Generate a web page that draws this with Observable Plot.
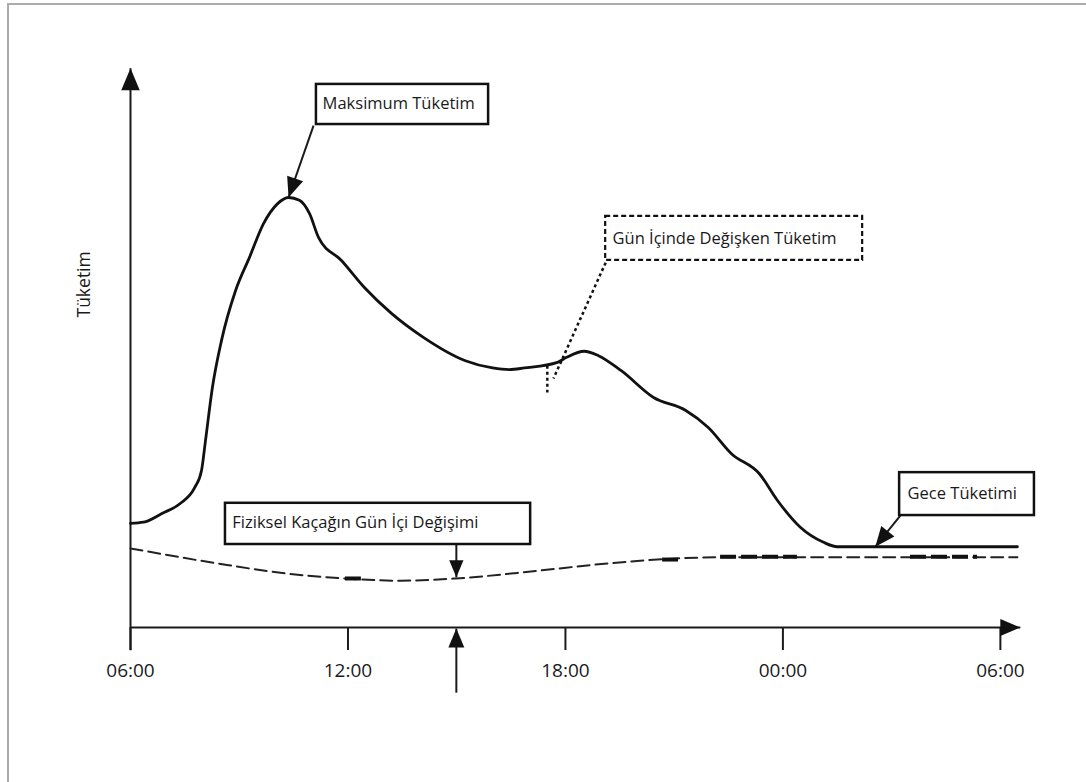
<!DOCTYPE html>
<html><head><meta charset="utf-8">
<script src="https://cdn.jsdelivr.net/npm/d3@7"></script>
<script src="https://cdn.jsdelivr.net/npm/@observablehq/plot@0.6"></script>
<style>
html,body{margin:0;padding:0;background:#fff;width:1086px;height:782px;overflow:hidden}
#frame{position:absolute;left:7px;top:3px;right:0;bottom:0;border-top:2px solid #ababab;border-left:2px solid #ababab}
#chart{position:absolute;left:0;top:0}
</style></head>
<body><div id="frame"></div><div id="chart"></div>
<script>
// Hours since 06:00
const hours = [0,0.36,0.88,1.38,1.77,1.96,2.07,2.26,2.51,2.90,3.28,3.67,4.06,4.36,4.66,4.94,5.19,5.82,6.46,7.20,8.08,9.24,9.99,10.45,10.87,11.78,12.03,12.52,12.91,13.54,14.43,15.31,15.94,16.58,17.35,17.85,18.48,19.12,19.50,22.0,24.47];
const consumption = [18.7,18.9,20.5,22.3,25.1,28.2,33.6,43.1,51.5,60.5,66.4,72.5,76.1,77.2,76.7,74.3,70.0,65.9,61.0,56.4,52.1,47.9,46.6,46.3,46.6,47.6,48.5,49.6,48.8,46.1,41.3,39.0,35.9,31.2,27.6,22.8,18.0,15.3,14.5,14.5,14.5];
const leakHours = [0,2.40,4.30,5.93,7.45,8.97,11.26,13.16,15.06,16.33,20.0,24.47];
const leak = [14.2,11.5,9.7,8.8,8.4,8.8,10.2,11.5,12.4,12.6,12.6,12.6];
const thickStart = [5.93,14.68,16.28,21.52];
const thickEnd = [6.37,15.12,18.40,23.37];
const thickLevel = [8.8,12.2,12.7,12.7];
const tickHours = [0,6,12,18,24];
const tickLabels = ["06:00","12:00","18:00","00:00","06:00"];
const boxLabels = ["Maksimum Tüketim","Gün İçinde Değişken Tüketim","Fiziksel Kaçağın Gün İçi Değişimi","Gece Tüketimi"];
const yLabel = "Tüketim";

// layout
const W = 1086, H = 782, mL = 130, mR = 68, mT = 70, mB = 155;
const xMax = 24.5, yMax = 100;
const kx = (W - mL - mR) / xMax, ky = (H - mT - mB) / yMax;

const mainData = hours.map((h, i) => ({h, v: consumption[i]}));
const leakData = leakHours.map((h, i) => ({h, v: leak[i]}));
const thick = thickStart.map((s, i) => ({x1: s, x2: thickEnd[i], y: thickLevel[i]}));

const boxes = [
  {x1: 5.13, x2: 9.88, y1: 90.3, y2: 97.5, tx: 5.30, ty: 94.1, label: boxLabels[0], dashed: false},
  {x1: 13.11, x2: 20.20, y1: 65.9, y2: 73.8, tx: 13.30, ty: 69.8, label: boxLabels[1], dashed: true},
  {x1: 2.62, x2: 11.04, y1: 14.9, y2: 22.3, tx: 2.81, ty: 18.9, label: boxLabels[2], dashed: false},
  {x1: 21.22, x2: 24.94, y1: 20.1, y2: 27.8, tx: 21.44, ty: 24.1, label: boxLabels[3], dashed: false}
];
const arrows = [
  {x1: 5.05, y1: 90.1, x2: 4.36, y2: 77.2, len: 20},
  {x1: 8.99, y1: 14.9, x2: 8.99, y2: 9.0, len: 17},
  {x1: 21.24, y1: 20.1, x2: 20.55, y2: 14.5, len: 20},
  {x1: 8.99, y1: -11.7, x2: 8.99, y2: -0.2, len: 19},
  {x1: 0, y1: -4.1, x2: 0, y2: 100.4, len: 22},
  {x1: 0, y1: 0, x2: 24.55, y2: 0, len: 20}
];
const dotted = [
  {x1: 13.11, y1: 65.5, x2: 11.67, y2: 44.7},
  {x1: 11.50, y1: 47.0, x2: 11.50, y2: 42.2}
];

const head = {draw(ctx, size) {
  const r = Math.sqrt(size / Math.PI);
  ctx.moveTo(0, 0); ctx.lineTo(-0.42 * r, r); ctx.lineTo(0.42 * r, r); ctx.closePath();
}};
const rot = d => Math.atan2((d.x2 - d.x1) * kx, (d.y2 - d.y1) * ky) * 180 / Math.PI;

const plot = Plot.plot({
  width: W, height: H,
  marginLeft: mL, marginRight: mR, marginTop: mT, marginBottom: mB,
  x: {domain: [0, xMax], label: null},
  y: {domain: [0, yMax], axis: null},
  r: {type: "identity"},
  style: {fontFamily: "'Open Sans', sans-serif", background: "transparent", color: "#1a1a1a"},
  marks: [
    Plot.axisX({ticks: tickHours, tickFormat: d => tickLabels[tickHours.indexOf(d)], tickSize: 23, tickPadding: 13, fontSize: 19, strokeWidth: 2, label: null}),
    Plot.link(arrows, {x1: "x1", y1: "y1", x2: "x2", y2: "y2", stroke: "#1a1a1a", strokeWidth: 2}),
    Plot.line(leakData, {x: "h", y: "v", curve: "monotone-x", stroke: "#222", strokeWidth: 2, strokeDasharray: "12,6"}),
    Plot.ruleY(thick, {x1: "x1", x2: "x2", y: "y", stroke: "#111", strokeWidth: 4, strokeDasharray: "16,5"}),
    Plot.line(mainData, {x: "h", y: "v", curve: "monotone-x", stroke: "#111", strokeWidth: 2.8}),
    Plot.link(dotted, {x1: "x1", y1: "y1", x2: "x2", y2: "y2", stroke: "#111", strokeWidth: 2.5, strokeDasharray: "3,3"}),
    Plot.rect(boxes.filter(d => !d.dashed), {x1: "x1", x2: "x2", y1: "y1", y2: "y2", fill: "white", stroke: "#111", strokeWidth: 2.5}),
    Plot.rect(boxes.filter(d => d.dashed), {x1: "x1", x2: "x2", y1: "y1", y2: "y2", fill: "white", stroke: "#111", strokeWidth: 2.2, strokeDasharray: "5,3"}),
    Plot.text(boxes, {x: "tx", y: "ty", text: "label", textAnchor: "start", fontSize: 16.5, fill: "#1a1a1a"}),
    Plot.dot(arrows, {x: "x2", y: "y2", r: "len", symbol: head, rotate: rot, fill: "#111", stroke: null}),
    Plot.text([yLabel], {x: -1.27, y: 61.6, text: d => d, rotate: -90, fontSize: 17.5, fill: "#1a1a1a"})
  ]
});
document.getElementById("chart").appendChild(plot);
</script>
</body></html>
